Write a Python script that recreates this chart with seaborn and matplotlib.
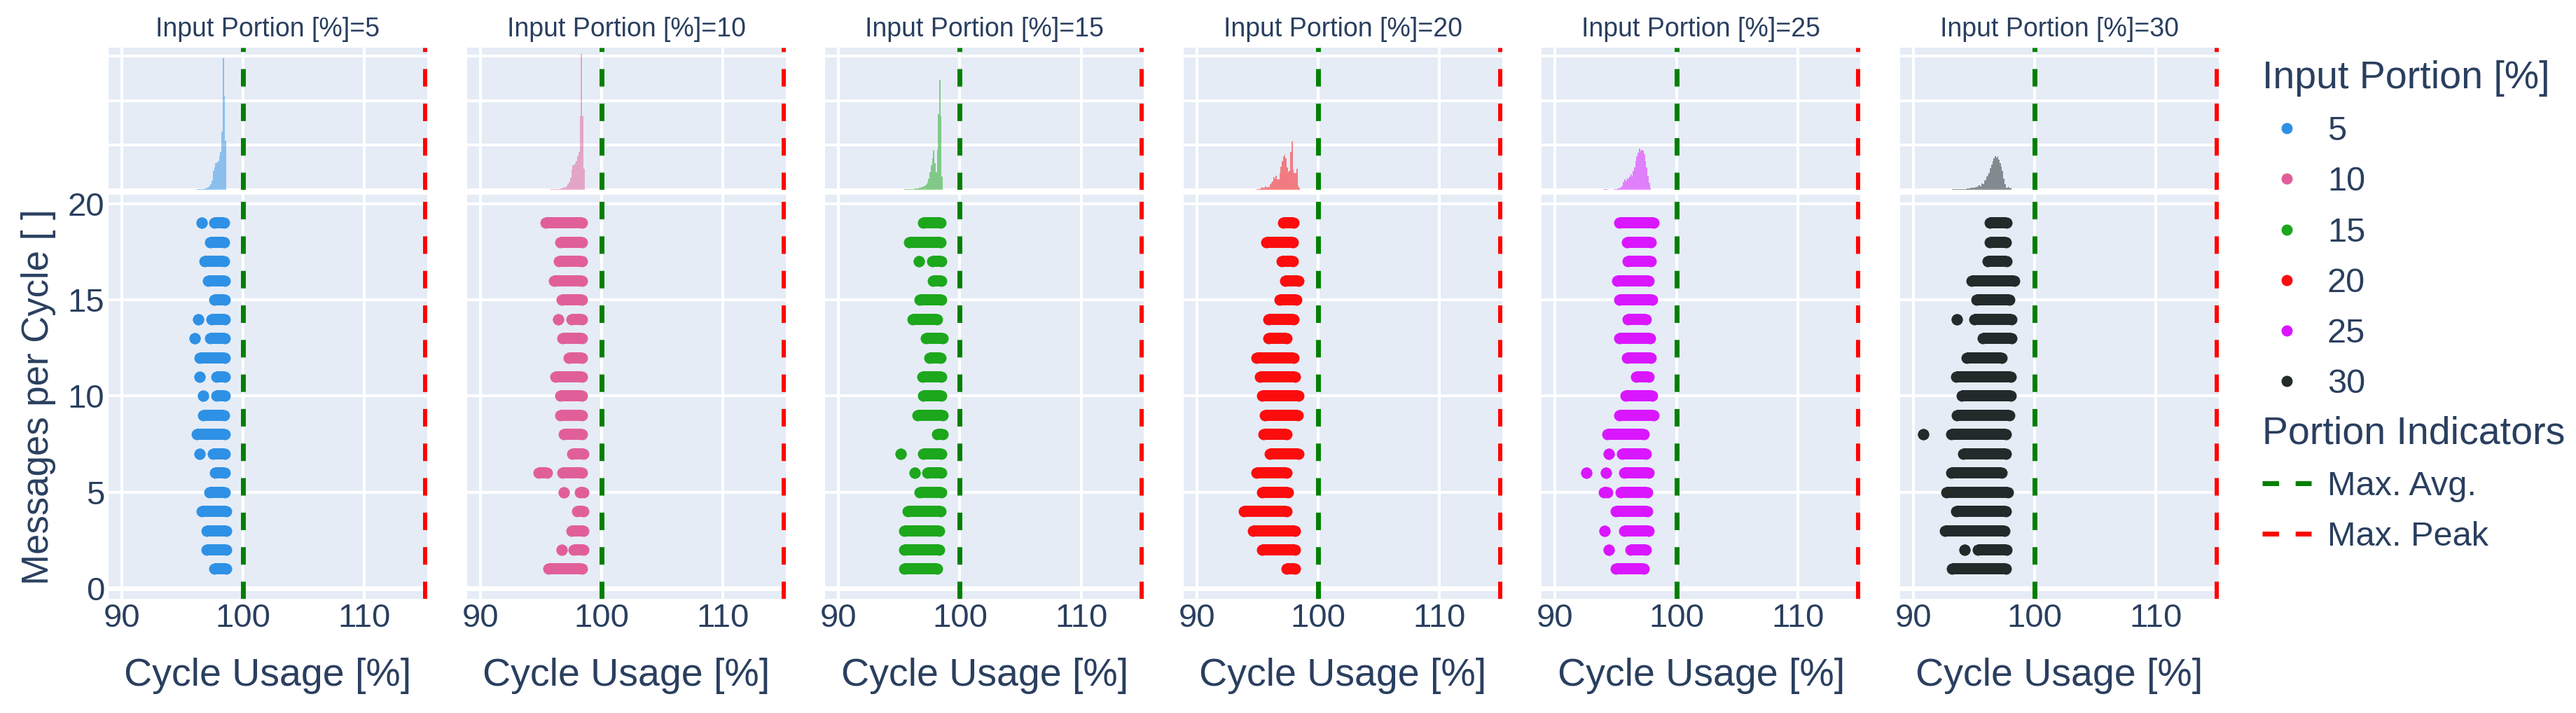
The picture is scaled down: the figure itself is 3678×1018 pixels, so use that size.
import numpy as np
import pandas as pd
import matplotlib
matplotlib.use("Agg")
import matplotlib.pyplot as plt
from matplotlib.lines import Line2D
import seaborn as sns

# ---- data ----
portions = [5, 10, 15, 20, 25, 30]
portion_colors = ["#2E91E5", "#E15F99", "#1CA71C", "#FB0D0D", "#DA16FF", "#222A2A"]

max_avg = 100
max_peak = 115

# runs of points: (messages per cycle, lowest usage, highest usage)
seg_5 = [(19, 96.6, 96.6), (19, 97.6, 98.4), (18, 97.3, 98.4), (17, 96.8, 98.4),
         (16, 97.1, 98.5), (15, 97.6, 98.5), (14, 96.3, 96.3), (14, 97.4, 98.5),
         (13, 96.0, 96.0), (13, 97.3, 98.5), (12, 96.4, 98.5), (11, 96.4, 96.4),
         (11, 97.8, 98.5), (10, 96.7, 96.7), (10, 97.8, 98.5), (9, 96.7, 98.4),
         (8, 96.2, 98.5), (7, 96.4, 96.4), (7, 97.5, 98.5), (6, 97.7, 98.5),
         (5, 97.2, 98.5), (4, 96.6, 98.6), (3, 97.0, 98.6), (2, 97.0, 98.6),
         (1, 97.6, 98.6)]
seg_10 = [(19, 95.4, 98.4), (18, 96.6, 98.4), (17, 96.5, 98.4), (16, 96.1, 98.4),
          (15, 96.7, 98.4), (14, 96.4, 96.4), (14, 97.5, 98.4), (13, 96.8, 98.4),
          (12, 97.3, 98.4), (11, 96.2, 98.4), (10, 96.6, 98.4), (9, 96.6, 98.4),
          (8, 96.9, 98.4), (7, 97.6, 98.5), (6, 94.8, 95.5), (6, 96.8, 98.4),
          (5, 96.9, 96.9), (5, 98.2, 98.5), (4, 98.0, 98.5), (3, 97.5, 98.5),
          (2, 96.7, 96.7), (2, 97.7, 98.5), (1, 95.6, 98.4)]
seg_15 = [(19, 97.0, 98.4), (18, 95.8, 98.4), (17, 96.6, 96.6), (17, 97.7, 98.5),
          (16, 97.8, 98.5), (15, 96.7, 98.5), (14, 96.1, 98.1), (13, 97.2, 98.6),
          (12, 97.5, 98.4), (11, 96.9, 98.5), (10, 97.0, 98.5), (9, 96.5, 98.6),
          (8, 98.1, 98.6), (7, 95.1, 95.1), (7, 97.0, 98.5), (6, 96.3, 96.3),
          (6, 97.3, 98.5), (5, 96.7, 98.5), (4, 95.7, 98.4), (3, 95.4, 98.3),
          (2, 95.4, 98.3), (1, 95.4, 98.1)]
seg_20 = [(19, 97.1, 98.0), (18, 95.7, 97.9), (17, 97.0, 97.9), (16, 97.3, 98.4),
          (15, 96.8, 98.2), (14, 95.9, 98.0), (13, 95.9, 97.4), (12, 94.9, 98.0),
          (11, 95.2, 98.1), (10, 95.4, 98.4), (9, 95.6, 98.3), (8, 95.5, 97.4),
          (7, 96.0, 98.4), (6, 94.9, 97.4), (5, 95.4, 97.5), (4, 93.9, 97.4),
          (3, 94.6, 98.1), (2, 95.4, 98.1), (1, 97.4, 98.1)]
seg_25 = [(19, 95.3, 98.1), (18, 95.9, 97.9), (17, 96.0, 97.9), (16, 95.1, 97.7),
          (15, 95.3, 98.0), (14, 96.0, 97.5), (13, 95.3, 97.8), (12, 95.9, 97.9),
          (11, 96.7, 97.7), (10, 95.8, 98.0), (9, 95.3, 98.1), (8, 94.3, 97.3),
          (7, 94.4, 94.4), (7, 95.5, 97.5), (6, 92.6, 92.6), (6, 94.2, 94.2),
          (6, 95.7, 97.7), (5, 94.0, 94.3), (5, 95.4, 97.6), (4, 95.0, 97.6),
          (3, 94.1, 94.1), (3, 95.7, 97.7), (2, 94.4, 94.4), (2, 96.2, 97.5),
          (1, 95.0, 97.3)]
seg_30 = [(19, 96.3, 97.7), (18, 96.3, 97.6), (17, 96.1, 97.7), (16, 94.8, 98.3),
          (15, 95.2, 97.9), (14, 93.6, 93.6), (14, 95.0, 98.1), (13, 95.7, 98.1),
          (12, 94.4, 97.3), (11, 93.5, 98.0), (10, 94.0, 98.0), (9, 93.6, 97.9),
          (8, 90.8, 90.8), (8, 93.1, 97.6), (7, 94.1, 97.6), (6, 93.1, 97.3),
          (5, 92.7, 97.8), (4, 93.5, 97.6), (3, 92.6, 97.5), (2, 94.2, 94.2),
          (2, 95.3, 97.7), (1, 93.2, 97.6)]

# marginal histograms, bin width 0.1, first bin left edge + counts
hist_bin = 0.1
hist_lo_5 = 95.9
hist_5 = [5, 5, 5, 8, 10, 10, 12, 15, 20, 25, 30, 40, 60, 90, 120, 200, 420, 500,
          600, 620, 640, 750, 850, 1300, 2960, 2100, 1100]
hist_lo_10 = 94.7
hist_10 = [3, 3, 3, 3, 3, 3, 3, 5, 5, 5, 5, 8, 8, 10, 10, 12, 15, 15, 20, 25, 30,
           40, 50, 60, 80, 120, 180, 260, 450, 550, 570, 600, 650, 750, 850, 1650,
           3050, 1650, 470]
hist_lo_15 = 95.0
hist_15 = [3, 3, 5, 5, 8, 8, 10, 10, 12, 15, 15, 20, 20, 25, 30, 35, 40, 50, 60, 70,
           80, 100, 130, 170, 250, 400, 550, 700, 880, 600, 400, 900, 1700, 2460,
           1650, 300]
hist_lo_20 = 93.9
hist_20 = [2, 0, 2, 0, 3, 3, 3, 5, 5, 5, 8, 10, 20, 30, 60, 40, 50, 80, 50, 60,
           70, 130, 160, 190, 280, 250, 310, 240, 230, 370, 520, 650, 750, 800, 700,
           500, 400, 420, 850, 1080, 450, 380, 380, 470, 100, 50]
hist_lo_25 = 94.0
hist_25 = [8, 8, 8, 5, 5, 3, 5, 5, 10, 15, 20, 25, 30, 40, 60, 100, 180, 230, 200,
           270, 250, 300, 340, 300, 420, 500, 650, 750, 840, 930, 860, 900, 880, 800,
           650, 500, 320, 150, 40]
hist_lo_30 = 92.6
hist_30 = [3, 3, 3, 3, 5, 5, 8, 8, 10, 10, 12, 12, 15, 15, 15, 20, 20, 20, 25, 25,
           30, 40, 50, 45, 55, 70, 60, 90, 110, 80, 140, 120, 200, 220, 300, 330, 380,
           480, 560, 640, 700, 760, 720, 750, 680, 600, 520, 420, 250, 120, 50, 40,
           60, 30, 40]

segments = dict(zip(portions, [seg_5, seg_10, seg_15, seg_20, seg_25, seg_30]))
hist_counts = dict(zip(portions, [hist_5, hist_10, hist_15, hist_20, hist_25, hist_30]))
hist_starts = dict(zip(portions, [hist_lo_5, hist_lo_10, hist_lo_15, hist_lo_20,
                                  hist_lo_25, hist_lo_30]))

# ---- style ----
TEXT = "#2a3f5f"
BG = "#E5ECF6"
W, H = 3678, 1018
MS = 11.5          # marker diameter, pt
GRID_LW = 2.9
DASH = (0, (3.6, 3.5))

sns.set_style("darkgrid", {"axes.facecolor": BG, "grid.color": "white"})
plt.rcParams["font.family"] = ["Liberation Sans", "DejaVu Sans"]
plt.rcParams["text.color"] = TEXT
plt.rcParams["axes.labelcolor"] = TEXT
plt.rcParams["xtick.color"] = TEXT
plt.rcParams["ytick.color"] = TEXT

fig = plt.figure(figsize=(W / 100, H / 100), dpi=100)
fig.patch.set_facecolor("white")

xlim = (88.9, 115.17)

for i, (p, col) in enumerate(zip(portions, portion_colors)):
    left = (155 + i * 511.6) / W
    ax_h = fig.add_axes([left, 1 - 271 / H, 455 / W, 203 / H])
    ax_s = fig.add_axes([left, 1 - 855 / H, 455 / W, 577 / H])

    # marginal histogram
    counts = hist_counts[p]
    edges = hist_starts[p] + hist_bin * np.arange(len(counts) + 1)
    hist_df = pd.DataFrame({"usage": edges[:-1] + hist_bin / 2, "count": counts})
    sns.histplot(data=hist_df, x="usage", weights="count", bins=list(edges),
                 color=col, alpha=0.5, linewidth=0, ax=ax_h)
    ax_h.set_xlim(xlim)
    ax_h.set_ylim(0, 3190)
    ax_h.set_xticks([90, 100, 110])
    ax_h.set_yticks([0, 1000, 2000, 3000])
    ax_h.set_xticklabels([])
    ax_h.set_yticklabels([])
    ax_h.set_xlabel("")
    ax_h.set_ylabel("")
    ax_h.text(0.5, 1.13, f"Input Portion [%]={p}", transform=ax_h.transAxes,
              ha="center", va="center", fontsize=27, color=TEXT)

    # scatter: runs of points drawn as connected markers
    segs = pd.DataFrame(segments[p], columns=["msgs", "lo", "hi"])
    pts = pd.concat([
        segs[["msgs", "lo"]].rename(columns={"lo": "usage"}),
        segs[["msgs", "hi"]].rename(columns={"hi": "usage"}),
    ])
    ax_s.axhline(0, color="white", lw=5, zorder=0.8)
    ax_s.hlines(segs["msgs"], segs["lo"], segs["hi"], colors=col, linewidth=MS,
                capstyle="butt", zorder=2)
    sns.scatterplot(data=pts, x="usage", y="msgs", color=col, s=MS ** 2,
                    linewidth=0, ax=ax_s, legend=False, zorder=2)
    ax_s.set_xlim(xlim)
    ax_s.set_ylim(-0.55, 20.47)
    ax_s.set_xticks([90, 100, 110])
    ax_s.set_yticks([0, 5, 10, 15, 20])
    ax_s.set_xlabel("Cycle Usage [%]", fontsize=40, labelpad=25)
    if i == 0:
        ax_s.set_ylabel("Messages per Cycle [ ]", fontsize=38, labelpad=12)
    else:
        ax_s.set_ylabel("")
        ax_s.set_yticklabels([])

    for ax in (ax_h, ax_s):
        ax.grid(True, color="white", lw=GRID_LW)
        ax.set_axisbelow(True)
        for sp in ax.spines.values():
            sp.set_visible(False)
        ax.tick_params(length=0, labelsize=34)
        ax.tick_params(axis="x", pad=4)
        ax.tick_params(axis="y", pad=4)
        ax.axvline(max_avg, color="green", lw=5, ls=DASH, zorder=5)
        ax.axvline(max_peak, color="red", lw=5, ls=DASH, zorder=5)

# ---- legends ----
dot_handles = [Line2D([], [], marker="o", ls="none", color=c, markersize=MS,
                      markeredgewidth=0) for c in portion_colors]
leg1 = fig.legend(dot_handles, [str(p) for p in portions], title="Input Portion [%]",
                  loc="upper left", bbox_to_anchor=(3230 / W, 1 - 86 / H),
                  frameon=False, fontsize=35, title_fontsize=40, handlelength=1.45,
                  handletextpad=0.46, labelspacing=0.56, borderpad=0,
                  borderaxespad=0, alignment="left")

line_handles = [Line2D([], [], color="green", lw=5, ls=(0, (3.4, 3.4))),
                Line2D([], [], color="red", lw=5, ls=(0, (3.4, 3.4)))]
leg2 = fig.legend(line_handles, ["Max. Avg.", "Max. Peak"], title="Portion Indicators",
                  loc="upper left", bbox_to_anchor=(3230 / W, 1 - 593 / H),
                  frameon=False, fontsize=35, title_fontsize=40, handlelength=1.45,
                  handletextpad=0.46, labelspacing=0.56, borderpad=0,
                  borderaxespad=0, alignment="left")
for leg in (leg1, leg2):
    leg.get_title().set_color(TEXT)
    for t in leg.get_texts():
        t.set_color(TEXT)

fig.savefig("out.png", dpi=100)
